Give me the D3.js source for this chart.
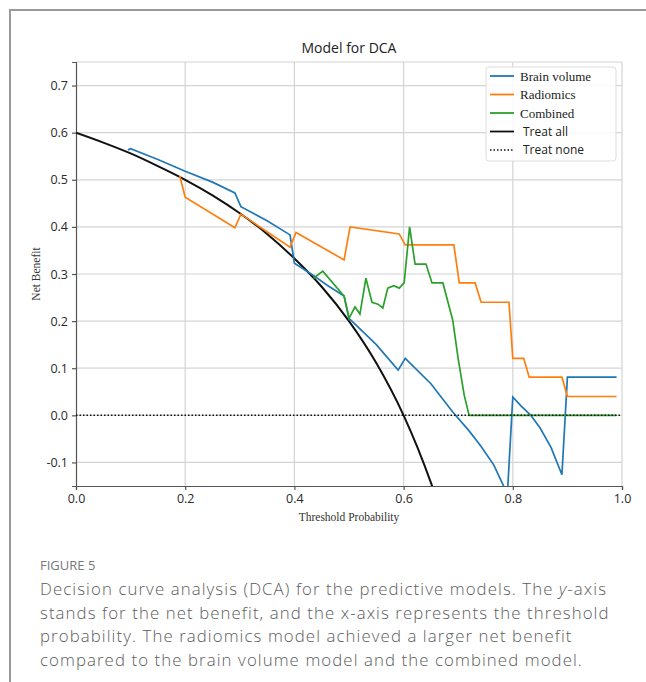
<!DOCTYPE html>
<html>
<head>
<meta charset="utf-8">
<script src="https://cdn.jsdelivr.net/npm/d3@7"></script>
<style>
	body { margin: 0; background: #fff; }
	svg { display: block; }
</style>
</head>
<body>
<svg id="chart" width="646" height="682"></svg>
<script>
// net benefit curves, [threshold, net benefit]
var brainVolume = [[0.095,0.563],[0.10,0.566],[0.15,0.543],[0.20,0.518],[0.25,0.495],[0.291,0.472],[0.302,0.443],[0.35,0.413],[0.392,0.383],
	[0.40,0.323],[0.436,0.296],[0.46,0.276],[0.491,0.253],[0.50,0.206],[0.55,0.150],[0.59,0.096],[0.603,0.121],[0.65,0.067],
	[0.69,0.007],[0.72,-0.033],[0.742,-0.066],[0.765,-0.105],[0.784,-0.152],[0.789,-0.19],[0.80,0.039],[0.815,0.020],
	[0.833,0.0],[0.85,-0.027],[0.87,-0.068],[0.89,-0.126],[0.90,0.081],[0.99,0.081]];
var radiomics = [[0.19,0.508],[0.20,0.463],[0.291,0.398],[0.302,0.427],[0.392,0.357],[0.403,0.388],[0.491,0.330],[0.502,0.400],
	[0.592,0.385],[0.603,0.362],[0.692,0.362],[0.702,0.281],[0.731,0.281],[0.742,0.240],[0.793,0.240],[0.80,0.121],
	[0.82,0.121],[0.83,0.081],[0.89,0.081],[0.90,0.040],[0.99,0.040]];
var combined = [[0.435,0.291],[0.452,0.306],[0.491,0.253],[0.50,0.206],[0.511,0.230],[0.52,0.215],[0.531,0.291],[0.542,0.240],
	[0.553,0.236],[0.562,0.228],[0.571,0.270],[0.582,0.275],[0.592,0.270],[0.601,0.281],[0.611,0.400],[0.621,0.321],
	[0.641,0.321],[0.652,0.281],[0.672,0.281],[0.69,0.202],[0.70,0.120],[0.711,0.043],[0.72,0.0],[0.99,0.0]];
var treatAll = [[0,0.600],[0.05,0.579],[0.10,0.556],[0.15,0.529],[0.20,0.500],[0.25,0.467],[0.30,0.429],[0.35,0.385],
	[0.40,0.333],[0.45,0.273],[0.50,0.200],[0.55,0.111],[0.60,0.0],[0.625,-0.067],[0.65,-0.143],[0.66,-0.176]];
var treatNone = [[0,0],[1,0]];

var xTicks = [0, 0.2, 0.4, 0.6, 0.8, 1.0];
var yTicks = [-0.1, 0, 0.1, 0.2, 0.3, 0.4, 0.5, 0.6, 0.7];
var legendNames = ["Brain volume", "Radiomics", "Combined", "Treat all", "Treat none"];
// each caption line is a list of [text, italic] pieces
var captionLines = [
	[["Decision curve analysis (DCA) for the predictive models. The ", false], ["y", true], ["-axis", false]],
	[["stands for the net benefit, and the x-axis represents the threshold", false]],
	[["probability. The radiomics model achieved a larger net benefit", false]],
	[["compared to the brain volume model and the combined model.", false]]
];

var svg = d3.select("#chart");
var margin = {top: 62, right: 24, bottom: 196, left: 76};
var width = 646 - margin.left - margin.right,
	height = 682 - margin.top - margin.bottom;

// figure frame
svg.append("path")
	.attr("d", "M10,682V10H646")
	.attr("fill", "none")
	.attr("stroke", "#9a9a9a")
	.attr("stroke-width", 2);

var x = d3.scaleLinear().domain([0, 1]).range([0, width]);
var y = d3.scaleLinear().domain([-0.15, 0.75]).range([height, 0]);

var g = svg.append("g")
	.attr("transform", "translate(" + margin.left + "," + margin.top + ")");

g.append("clipPath").attr("id", "plot-clip")
	.append("rect").attr("width", width).attr("height", height);

// grid
g.append("g")
	.selectAll("line")
	.data(yTicks)
	.enter().append("line")
	.attr("x1", 0).attr("x2", width)
	.attr("y1", function(d) { return y(d); })
	.attr("y2", function(d) { return y(d); })
	.attr("stroke", "#d4d4d4").attr("stroke-width", 1.2);
g.append("g")
	.selectAll("line")
	.data(xTicks.slice(1))
	.enter().append("line")
	.attr("y1", 0).attr("y2", height)
	.attr("x1", function(d) { return x(d); })
	.attr("x2", function(d) { return x(d); })
	.attr("stroke", "#d4d4d4").attr("stroke-width", 1.2);
// light top spine
g.append("line").attr("x1", 0).attr("x2", width).attr("y1", 0).attr("y2", 0)
	.attr("stroke", "#d4d4d4").attr("stroke-width", 1.2);

// plain hyphen for negatives, like the original
var fmt = function(d) { return d.toFixed(1); };

var xAxis = g.append("g")
	.attr("class", "axis")
	.attr("transform", "translate(0," + height + ")")
	.call(d3.axisBottom(x).tickValues(xTicks).tickFormat(fmt).tickSizeOuter(0).tickSize(4).tickPadding(4));
var yAxis = g.append("g")
	.attr("class", "axis")
	.call(d3.axisLeft(y).tickValues(yTicks).tickFormat(fmt).tickSizeOuter(0).tickSize(4).tickPadding(4));

g.selectAll(".axis path, .axis line").attr("stroke", "#555").attr("stroke-width", 1.2);
g.selectAll(".axis text")
	.attr("font-family", "'Open Sans', sans-serif")
	.attr("font-size", 12.5)
	.attr("fill", "#2a2a2a");

g.append("text")
	.attr("x", width / 2)
	.attr("y", height + 35)
	.attr("text-anchor", "middle")
	.attr("font-family", "'Liberation Serif', 'Times New Roman', serif")
	.attr("font-size", 11.5)
	.attr("fill", "#333")
	.text("Threshold Probability");
g.append("text")
	.attr("transform", "rotate(-90)")
	.attr("x", -height / 2)
	.attr("y", -36)
	.attr("text-anchor", "middle")
	.attr("font-family", "'Liberation Serif', 'Times New Roman', serif")
	.attr("font-size", 11.5)
	.attr("fill", "#333")
	.text("Net Benefit");

svg.append("text")
	.attr("x", margin.left + width / 2)
	.attr("y", 53)
	.attr("text-anchor", "middle")
	.attr("font-family", "'Open Sans', sans-serif")
	.attr("font-size", 14)
	.attr("fill", "#222")
	.text("Model for DCA");

var line = d3.line()
	.x(function(d) { return x(d[0]); })
	.y(function(d) { return y(d[1]); });
var smooth = d3.line()
	.x(function(d) { return x(d[0]); })
	.y(function(d) { return y(d[1]); })
	.curve(d3.curveMonotoneX);

var series = [
	{name: "Brain volume", data: brainVolume, color: "#1f77b4", dash: null, gen: line},
	{name: "Radiomics", data: radiomics, color: "#ff7f0e", dash: null, gen: line},
	{name: "Combined", data: combined, color: "#2ca02c", dash: null, gen: line},
	{name: "Treat all", data: treatAll, color: "#111", dash: null, gen: smooth},
	{name: "Treat none", data: treatNone, color: "#111", dash: "1.5,2", gen: line}
];

var plot = g.append("g").attr("clip-path", "url(#plot-clip)");
// draw order: black curve first, coloured on top, dotted last
[3, 0, 1, 2, 4].forEach(function(i) {
	var s = series[i];
	plot.append("path")
		.attr("d", s.gen(s.data))
		.attr("fill", "none")
		.attr("stroke", s.color)
		.attr("stroke-width", i == 4 ? 1.5 : (i == 3 ? 2 : 1.7))
		.attr("stroke-dasharray", s.dash);
});

// legend
var legend = g.append("g").attr("transform", "translate(" + (x(1) - 136) + ",5)");
legend.append("rect")
	.attr("width", 130).attr("height", 94).attr("rx", 3)
	.attr("fill", "#fff").attr("fill-opacity", 0.85)
	.attr("stroke", "#dcdcdc");
var item = legend.selectAll(".item")
	.data(legendNames)
	.enter().append("g")
	.attr("class", "item")
	.attr("transform", function(d, i) { return "translate(0," + (9 + i * 18.5) + ")"; });
item.append("line")
	.attr("x1", 4).attr("x2", 28)
	.attr("stroke", function(d, i) { return series[i].color; })
	.attr("stroke-width", function(d, i) { return i == 4 ? 1.3 : 1.8; })
	.attr("stroke-dasharray", function(d, i) { return series[i].dash; });
item.append("text")
	.attr("x", function(d, i) { return i < 3 ? 34 : 37; })
	.attr("dy", "0.35em")
	.attr("font-family", function(d, i) { return i < 3 ? "'Liberation Serif', serif" : "'Open Sans', sans-serif"; })
	.attr("font-size", function(d, i) { return i < 3 ? 13 : 12; })
	.attr("fill", "#222")
	.text(function(d) { return d; });

// caption
svg.append("text")
	.attr("x", 40).attr("y", 570)
	.attr("font-family", "'Open Sans', sans-serif")
	.attr("font-size", 13)
	.attr("fill", "#777")
	.text("FIGURE 5");
var cap = svg.selectAll(".cap")
	.data(captionLines)
	.enter().append("text")
	.attr("class", "cap")
	.attr("x", 40)
	.attr("y", function(d, i) { return 595 + i * 23.5; })
	.attr("font-family", "'Open Sans', sans-serif")
	.attr("font-weight", 300)
	.attr("font-size", 16.8)
	.attr("fill", "#5c5c5c");
cap.selectAll("tspan")
	.data(function(d) { return d; })
	.enter().append("tspan")
	.attr("font-style", function(d) { return d[1] ? "italic" : null; })
	.text(function(d) { return d[0]; });
// widen the letter spacing a little so the first line spans the original width
var w0 = cap.node().getComputedTextLength();
var spacing = Math.max(0, (566 - w0) / 66);
cap.attr("letter-spacing", spacing);
</script>
</body>
</html>
